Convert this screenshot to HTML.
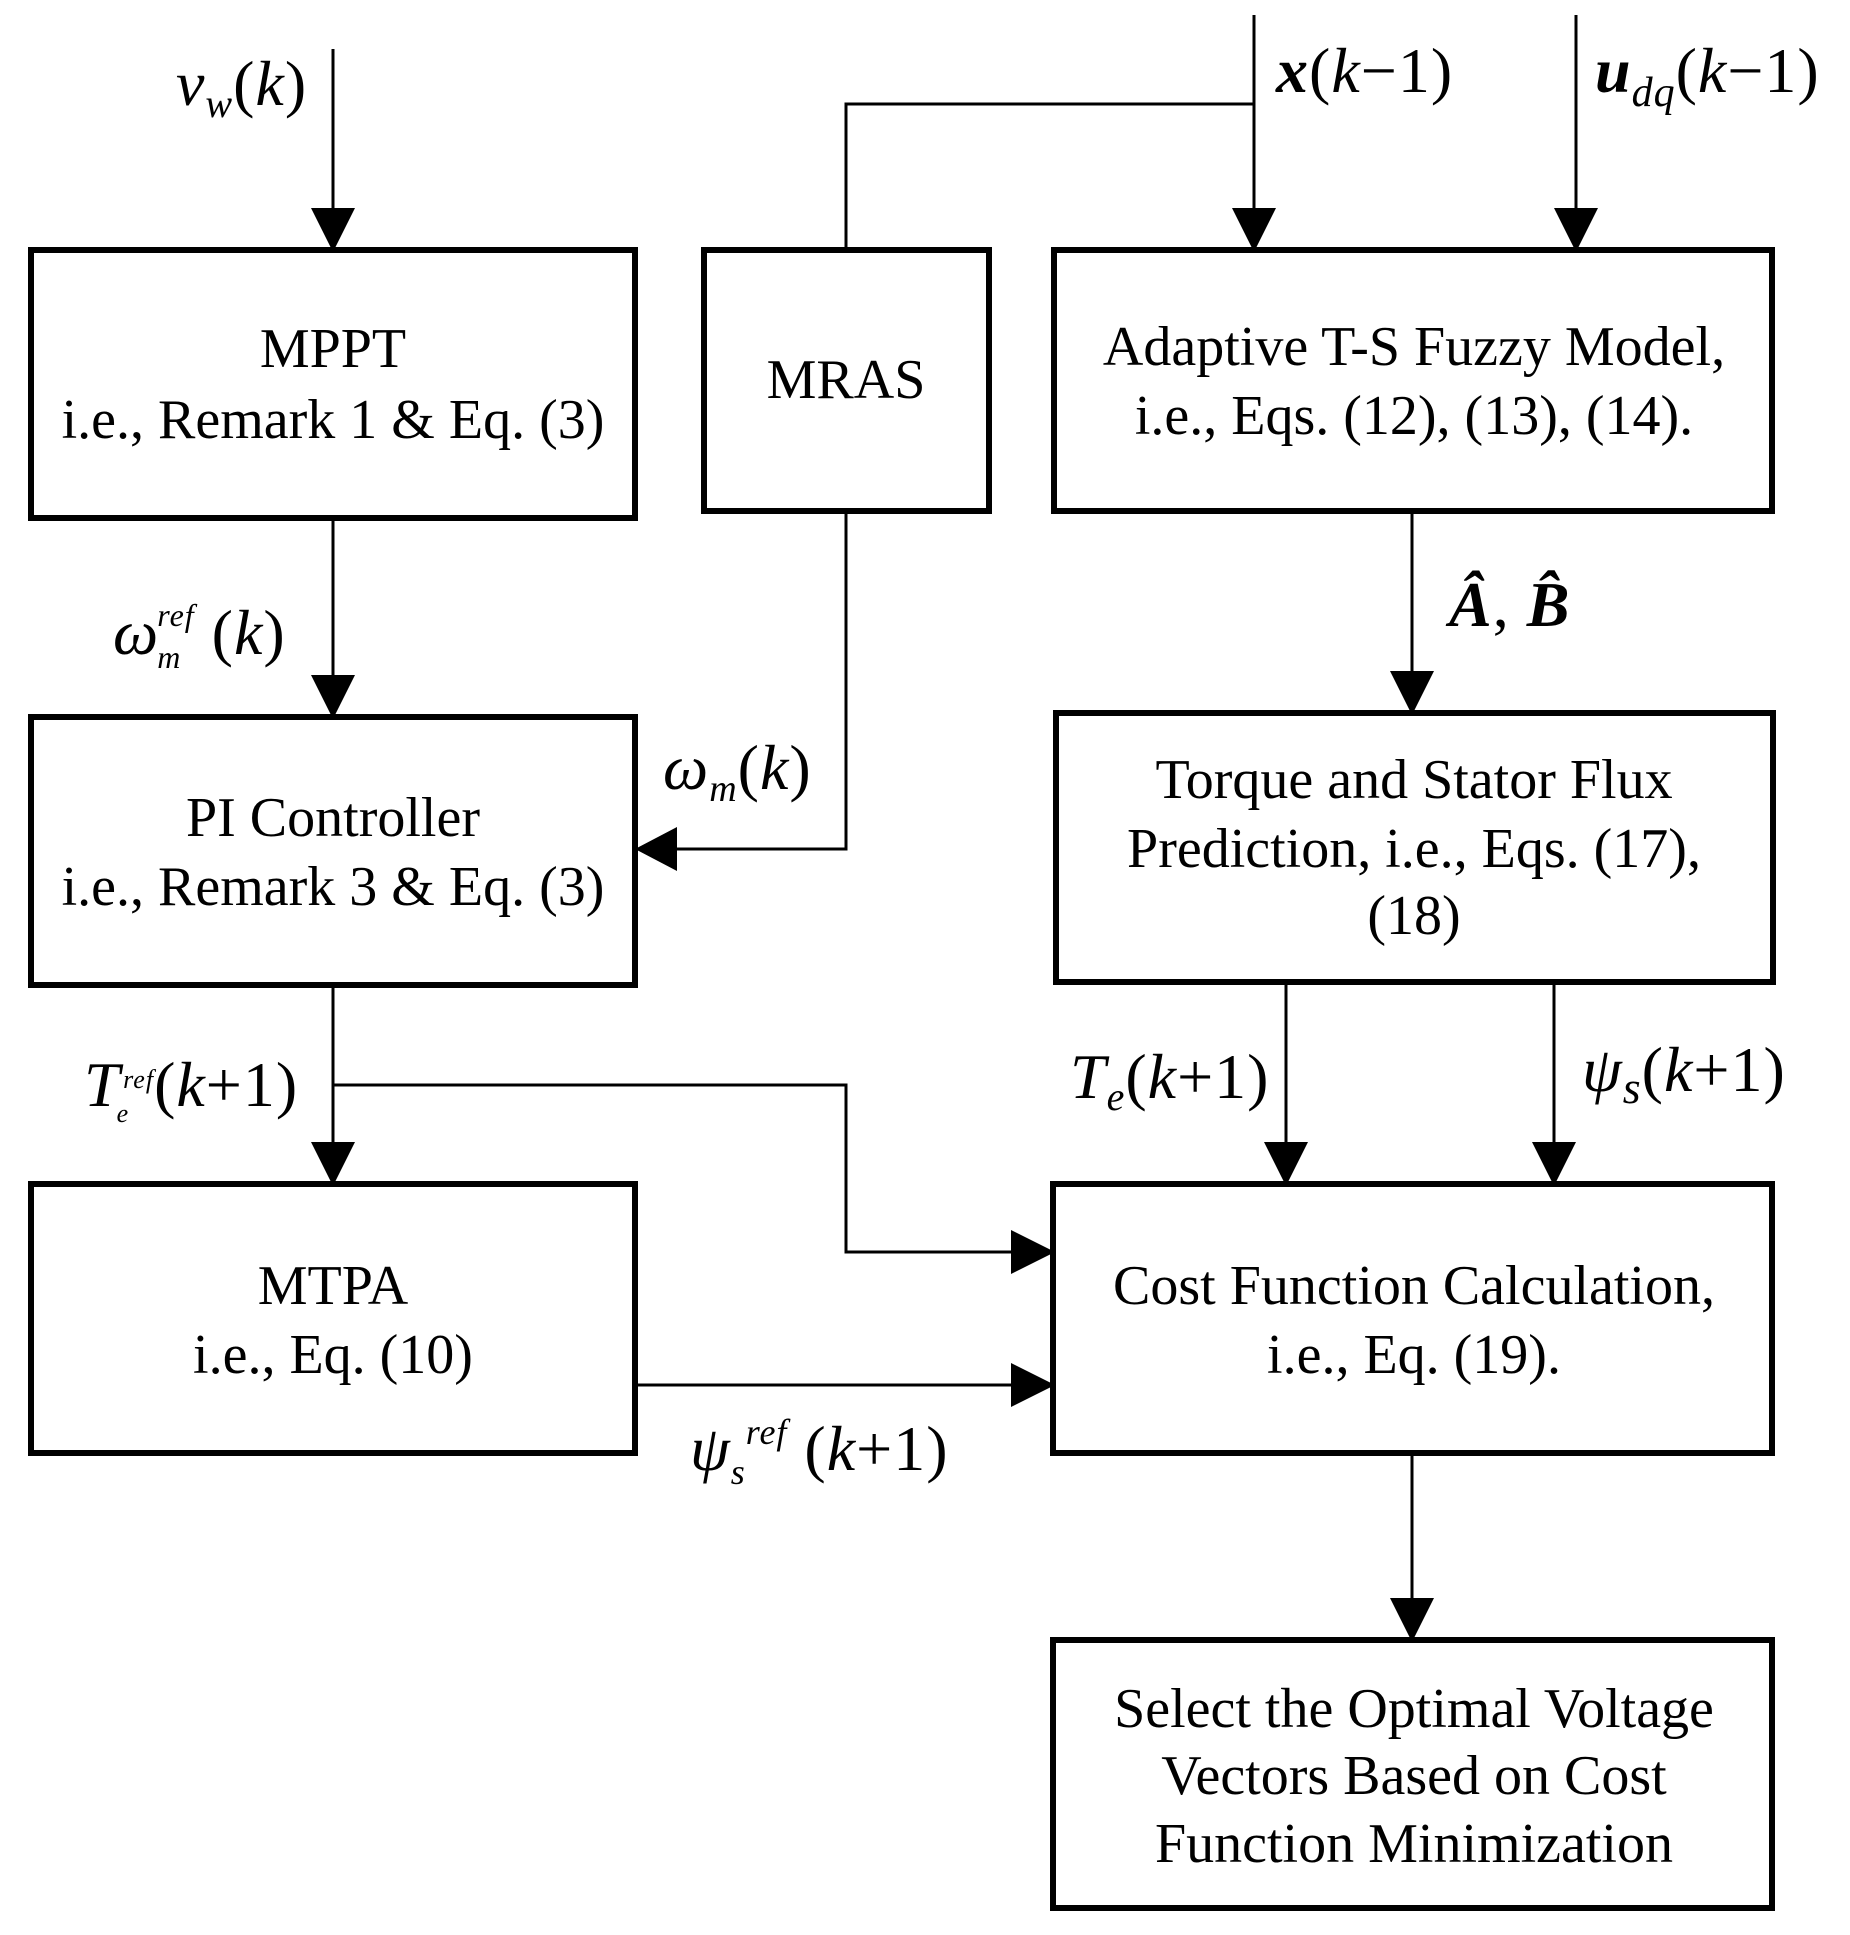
<!DOCTYPE html>
<html><head><meta charset="utf-8"><style>
html,body{margin:0;padding:0;background:#fff;}
svg{display:block;}
text{font-family:"Liberation Serif",serif;fill:#000;}
.b{font-size:56px;text-anchor:middle;}
.m{font-size:64px;font-style:italic;letter-spacing:1px;}
</style></head><body>
<svg width="1850" height="1935" viewBox="0 0 1850 1935" xmlns="http://www.w3.org/2000/svg">
<g fill="none" stroke="#000" stroke-width="6">
<rect x="31" y="250" width="604" height="268"/>
<rect x="704" y="250" width="285" height="261"/>
<rect x="1054" y="250" width="718" height="261"/>
<rect x="31" y="717" width="604" height="268"/>
<rect x="1056" y="713" width="717" height="269"/>
<rect x="31" y="1184" width="604" height="269"/>
<rect x="1053" y="1184" width="719" height="269"/>
<rect x="1053" y="1640" width="719" height="268"/>
</g>
<g fill="none" stroke="#000" stroke-width="3">
<path d="M333 49 V210"/>
<path d="M1254 15 V210"/>
<path d="M846 250 V104 H1254"/>
<path d="M1576 15 V210"/>
<path d="M333 518 V677"/>
<path d="M846 511 V849 H675"/>
<path d="M1412 511 V673"/>
<path d="M333 985 V1144"/>
<path d="M333 1085 H846 V1252 H1013"/>
<path d="M635 1385 H1013"/>
<path d="M1286 982 V1144"/>
<path d="M1554 982 V1144"/>
<path d="M1412 1453 V1600"/>
</g>
<g fill="#000">
<polygon points="311,208 355,208 333,252"/>
<polygon points="1232,208 1276,208 1254,252"/>
<polygon points="1554,208 1598,208 1576,252"/>
<polygon points="311,675 355,675 333,719"/>
<polygon points="677,827 677,871 635,849"/>
<polygon points="1390,671 1434,671 1412,715"/>
<polygon points="311,1142 355,1142 333,1186"/>
<polygon points="1011,1230 1011,1274 1055,1252"/>
<polygon points="1011,1363 1011,1407 1055,1385"/>
<polygon points="1264,1142 1308,1142 1286,1186"/>
<polygon points="1532,1142 1576,1142 1554,1186"/>
<polygon points="1390,1598 1434,1598 1412,1642"/>
</g>
<text class="b" x="333" y="367">MPPT</text>
<text class="b" x="333" y="438">i.e., Remark 1 &amp; Eq. (3)</text>
<text class="b" x="846" y="398">MRAS</text>
<text class="b" x="1414" y="365">Adaptive T-S Fuzzy Model,</text>
<text class="b" x="1414" y="434">i.e., Eqs. (12), (13), (14).</text>
<text class="b" x="333" y="836">PI Controller</text>
<text class="b" x="333" y="905">i.e., Remark 3 &amp; Eq. (3)</text>
<text class="b" x="1414" y="798">Torque and Stator Flux</text>
<text class="b" x="1414" y="867">Prediction, i.e., Eqs. (17),</text>
<text class="b" x="1414" y="934">(18)</text>
<text class="b" x="333" y="1304">MTPA</text>
<text class="b" x="333" y="1373">i.e., Eq. (10)</text>
<text class="b" x="1414" y="1304">Cost Function Calculation,</text>
<text class="b" x="1414" y="1373">i.e., Eq. (19).</text>
<text class="b" x="1414" y="1727">Select the Optimal Voltage</text>
<text class="b" x="1414" y="1794">Vectors Based on Cost</text>
<text class="b" x="1414" y="1862">Function Minimization</text>

<text class="m" x="176" y="105">v<tspan font-size="40" dy="12">w</tspan><tspan dy="-12" font-style="normal">(</tspan>k<tspan font-style="normal">)</tspan></text>
<text class="m" x="1276" y="92"><tspan font-weight="bold">x</tspan><tspan font-style="normal">(</tspan>k<tspan font-style="normal">−1)</tspan></text>
<text class="m" x="1595" y="92"><tspan font-weight="bold">u</tspan><tspan font-size="42" dy="14">dq</tspan><tspan dy="-14" font-style="normal">(</tspan>k<tspan font-style="normal">−1)</tspan></text>
<text class="m" x="113" y="654">ω<tspan font-size="32" dx="-2" dy="14">m</tspan><tspan font-size="32" dx="-24" dy="-42">ref</tspan><tspan dy="28" font-style="normal"> (</tspan>k<tspan font-style="normal">)</tspan></text>
<text class="m" x="1449" y="626" font-weight="bold">Â<tspan font-style="normal" font-weight="normal">, </tspan>B̂</text>
<text class="m" x="663" y="789">ω<tspan font-size="38" dy="12">m</tspan><tspan dy="-12" font-style="normal">(</tspan>k<tspan font-style="normal">)</tspan></text>
<text class="m" x="84" y="1106">T<tspan font-size="26" dy="16" dx="-4">e</tspan><tspan font-size="26" dy="-34" dx="-6">ref</tspan><tspan dy="18" font-style="normal">(</tspan>k<tspan font-style="normal">+1)</tspan></text>
<text class="m" x="1070" y="1098">T<tspan font-size="40" dy="12">e</tspan><tspan dy="-12" font-style="normal">(</tspan>k<tspan font-style="normal">+1)</tspan></text>
<text class="m" x="1582" y="1091" font-size="76">ψ<tspan font-size="46" dy="12">s</tspan><tspan dy="-12" font-style="normal">(</tspan>k<tspan font-style="normal">+1)</tspan></text>
<text class="m" x="690" y="1470">ψ<tspan font-size="36" dy="14">s</tspan><tspan font-size="36" dy="-40">ref</tspan><tspan dy="26" font-style="normal"> (</tspan>k<tspan font-style="normal">+1)</tspan></text>
</svg>
</body></html>
